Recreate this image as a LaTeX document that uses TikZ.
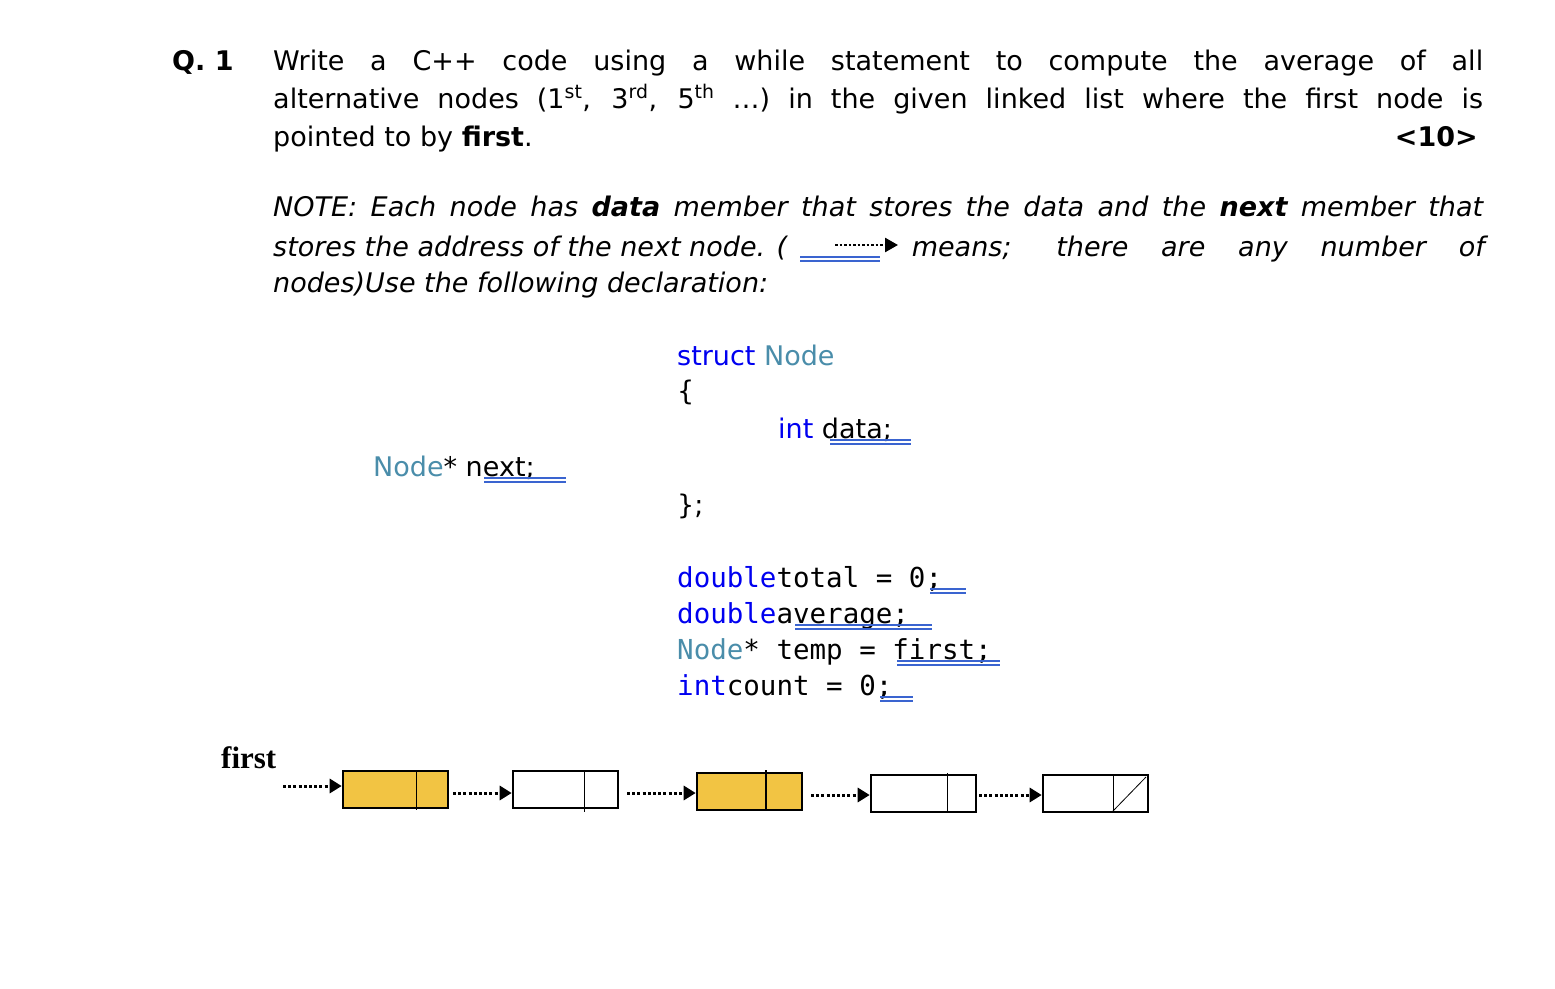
\documentclass[tikz,border=0pt]{standalone}
\usepackage{fontspec}
\setmainfont{DejaVu Sans}
\setmonofont{DejaVu Sans Mono}
\newfontfamily\timesf{Liberation Serif}
\usetikzlibrary{arrows.meta}
\definecolor{kw}{HTML}{0000F0}
\definecolor{ty}{HTML}{4A8DAA}
\definecolor{gold}{HTML}{F2C443}
\definecolor{sq}{HTML}{3A64D0}
\tikzset{
  txt/.style={anchor=base west,inner sep=0pt,font=\fontsize{27}{32}\selectfont},
  code/.style={anchor=base west,inner sep=0pt,font=\fontsize{27.5}{32}\selectfont\ttfamily},
  cell/.style={draw,line width=2.6pt,minimum width=105pt,minimum height=37pt,inner sep=0pt},
  ptr/.style={line width=3pt,dash pattern=on 3pt off 2.2pt,-{Triangle[length=12pt,width=14pt]}},
  squig/.style={sq,line width=1.3pt}
}
\newcommand{\sqline}[3]{\draw[squig] (#1,#3) -- (#2,#3); \draw[squig] (#1,#3+4) -- (#2,#3+4);}
\begin{document}
\begin{tikzpicture}[x=1pt,y=-1pt]
\useasboundingbox (0,0) rectangle (1555,988);
\node[txt,font=\fontsize{27}{32}\selectfont\bfseries] (q) at (172,70) {Q. 1};
\node[txt] (l1) at (273,70) {\makebox[1210pt][s]{Write a C++ code using a while statement to compute the average of all}};
\node[txt] (l2) at (273,108) {\makebox[1210pt][s]{alternative nodes (1\textsuperscript{st}, 3\textsuperscript{rd}, 5\textsuperscript{th} …) in the given linked list where the first node is}};
\node[txt] (l3) at (273,146) {pointed to by \textbf{first}.};
\node[txt,anchor=base east] (pts) at (1478,146) {\textbf{<10>}};
\node[txt] (n1) at (273,216) {\makebox[1210pt][s]{\itshape NOTE: Each node has \textbf{data} member that stores the data and the \textbf{next} member that}};
\node[txt] (n2a) at (273,256) {\itshape stores the address of the next node. (};
\node[txt,anchor=base east] (n2b) at (1485,256) {\makebox[573pt][s]{\itshape means; there are any number of}};
\coordinate (na) at (835,245);
\coordinate (nb) at (898,245);
\draw[line width=2.5pt,dash pattern=on 2.5pt off 2pt,-{Triangle[length=13pt,width=14pt]}] (na) -- (nb);
\sqline{800}{880}{257}
\node[txt] (n3) at (273,292) {\itshape nodes)Use the following declaration:};
\node[txt] (s1) at (677,365) {\color{kw}struct \color{ty}Node};
\node[txt] (s2) at (677,400) {\{};
\node[txt] (s3) at (778,438) {\color{kw}int \color{black}data;};
\sqline{830}{911}{440}
\node[txt] (s4) at (373,476) {\color{ty}Node\color{black}* next;};
\sqline{484}{566}{478}
\node[txt] (s5) at (677,514) {\};};
\node[code] (c1) at (677,587) {\color{kw}double\color{black} total = 0;};
\sqline{930}{966}{589}
\node[code] (c2) at (677,623) {\color{kw}double\color{black} average;};
\sqline{795}{932}{625}
\node[code] (c3) at (677,659) {\color{ty}Node\color{black}* temp = first;};
\sqline{897}{1000}{661}
\node[code] (c4) at (677,695) {\color{kw}int\color{black} count = 0;};
\sqline{880}{913}{697}
\node[anchor=base west,inner sep=0pt,font=\fontsize{31}{34}\selectfont\timesf\bfseries] (first) at (221,768) {first};
\node[cell,fill=gold] (b1) at (395.5,789.5) {};
\node[cell] (b2) at (565.5,789.5) {};
\node[cell,fill=gold] (b3) at (749.5,791.5) {};
\node[cell] (b4) at (923.5,793.5) {};
\node[cell] (b5) at (1095.5,793.5) {};
\draw[line width=0.8pt] (416,771) -- (416,810);
\draw[line width=1pt] (584,771) -- (584,812);
\draw[line width=1.2pt] (766,770) -- (766,810);
\draw[line width=0.8pt] (947,773) -- (947,812);
\draw[line width=0.8pt] (1113,775) -- (1113,812);
\draw[line width=0.8pt] (1113,811) -- (1146,777);
\coordinate (f0) at (283,786);
\draw[ptr] (f0) -- (b1.west |- f0);
\draw[ptr] (453,793) -- (b2.west |- 0,793);
\draw[ptr] (627,793) -- (b3.west |- 0,793);
\draw[ptr] (811,795) -- (b4.west |- 0,795);
\draw[ptr] (979,795) -- (b5.west |- 0,795);
\end{tikzpicture}
\end{document}
